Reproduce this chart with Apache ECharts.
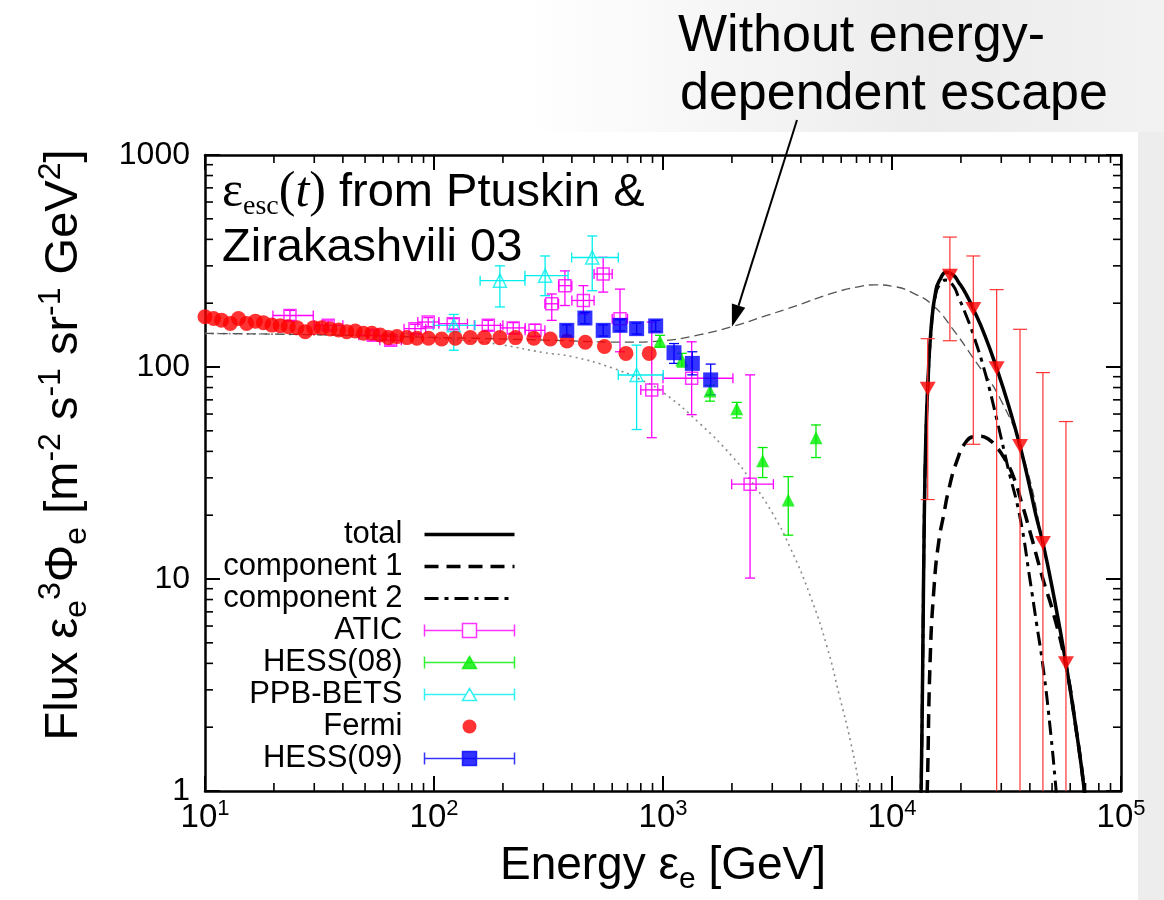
<!DOCTYPE html>
<html>
<head>
<meta charset="utf-8">
<script src="https://cdn.jsdelivr.net/npm/echarts@6.0.0/dist/echarts.min.js"></script>
<style>
html,body{margin:0;padding:0;background:#fff;overflow:hidden;}
#chart{width:1164px;height:900px;}
</style>
</head>
<body>
<div id="chart"></div>
<script>
// ---------------- data ----------------
const fermiE = [10.0,10.9,11.8,12.9,14.0,15.2,16.6,18.0,19.6,21.3,23.1,25.2,27.4,29.8,32.4,35.2,38.3,41.6,45.3,49.2,53.5,58.2,63.3,68.9,76.2,84.2,94.6,108,124,144,166,194,227,273,322,381,458,555,689,871];
const fermiF = [172.6,169.4,166.3,160.6,169.4,160.6,164.5,161.7,157.6,156.7,155.0,153.3,146.8,153.3,153.3,151.0,149.4,146.8,147.8,144.2,144.2,141.5,137.6,139.1,137.6,136.6,136.6,135.6,136.6,137.6,137.6,137.6,137.6,136.6,135.6,132.7,130.9,125.0,115.9,115.9];

const aticE   = [23.5,34.5,54.3,64.7,82.6,94.4,121.3,172.6,221.8,276,326.8,373,449,548,649,893,1334,2400];
const aticF   = [175,157.2,141.2,133.7,151.7,163,160.1,157.2,152.9,148.9,198.7,242,206,274.5,169,78,88.5,28.0];
const aticELo = [19.8,30,47,58,74,85,105,150,195,250,305,350,400,500,600,800,1000,1995];
const aticEHi = [29.7,40,62,72,92,105,140,200,250,305,350,400,500,600,700,1000,2020,3034];
const aticFLo = [166,150,134,127,144,155,151,149,144,139,166,195,178,225.6,118,46.4,59.6,10.1];
const aticFHi = [185,165,148,140,159,171,169,166,162,159,221,284,242,329,233,163,131.5,91.8];

const betsE   = [122,194,305.6,491,767];
const betsF   = [157.2,255.4,269.6,328.5,91.7];
const betsELo = [99.3,159,249.5,399,638];
const betsEHi = [151,249.5,385,638,1002];
const betsFLo = [120,192,217,229,50.7];
const betsFHi = [177,300,334,415,126.8];

const hess08E   = [970,1209,1603,2099,2724,3524,4656];
const hess08F   = [132.3,107.8,77,63.6,36.1,23.6,46.4];
const hess08FLo = [124,100,69,57.5,30.1,16.1,37.4];
const hess08FHi = [141,116,82,68.1,41.7,30.4,53.3];

const hess09E   = [380,456,548,649,767,929,1117,1343,1615];
const hess09F   = [148.9,170.2,148.9,157.2,151.7,156.2,116.8,104,86.9];
const hess09FLo = [140,160,140,148,143,147,104,91.8,73.9];
const hess09FHi = [158,181,158,167,161,166,129,118,103.2];

// unlabeled red downward triangles (0.5 = error bar runs off the bottom)
const simE   = [14320,17900,22650,28640,36230,45600,57500];
const simF   = [78.9,269.5,188,98.6,42.4,14.8,4.0];
const simFLo = [23.7,133,43.2,0.5,0.5,0.5,0.5];
const simFHi = [136,410,334,231.7,150.6,94.1,55.3];

// model curves
const totalE = [13250,13400,13620,13840,14080,14320,14800,15540,16300,17200,18500,19500,21000,22650,25500,28640,32000,36230,40000,42500,45600,50470,57500,63500,69180,71000];
const totalF = [0.6,1,4,20,50,80,150,230,262,280,272,252,222,188,140,98.6,68,42.4,27,20,14.8,8.7,4.0,2.0,1.0,0.7];
const comp1E = [14000,14250,14680,15280,16000,16880,17630,19190,21180,23000,24320,26500,28700,31000,33890,37000,40000,45600,50470,57500,63500,69180,71000];
const comp1F = [0.6,1.0,4.2,9.3,15,20.5,26,36,44.8,47,47.2,45.5,41.8,37,30.4,22.5,16.8,10,7.0,3.9,2.0,1.0,0.7];
const comp2E = [13250,13400,13620,13840,14080,14320,14800,15540,16300,17200,18500,19500,21000,22650,25500,28640,32000,36230,40000,42750,45600,48870,52100,53500];
const comp2F = [0.6,1,4,20,49,79,146,222,248,257,242,214,177,142,94,57,34,19.5,10,6.2,3.9,2.06,1.0,0.7];
const noEscE = [10,30,100,300,700,1000,1450,2000,2840,3840,5360,7000,8430,10140,12500,15130,18500,22650,29650,37420,45600,57500,69180,71000];
const noEscF = [144,142,138,134,131,133,142,155,175,195,221,238,244,240,222,195,150,110,71,38,14.8,4.0,1.0,0.7];
const bgE = [10,30,60,100,160,200,300,400,600,800,1000,1450,2000,2400,3000,3600,4400,5200,5900,6600,7250,7600];
const bgF = [144,142,140,137,131,127,117,112,99,87,76,54,38,29.5,20.5,14,8.3,4.8,2.8,1.7,1.0,0.7];

// axis ticks / labels
const xTickExponents = ['1','2','3','4','5'];
const yTickLabels = ['1','10','100','1000'];
const minorMult = [2,3,4,5,6,7,8,9];
const xDecades = [10,100,1000,10000];
const yDecades = [1,10,100];
const arrowTarget = [2000, 155];

// ---------------- chart ----------------
const FONT = "'Liberation Sans', Arial, Helvetica, sans-serif";
const SERIF = "'Liberation Serif', 'Times New Roman', serif";
const pairs = (E, F) => E.map((e, i) => [e, F[i]]);

function errSeries(name, E, F, ELo, EHi, FLo, FHi, color, lw, cap) {
  const data = E.map((e, i) => [e, F[i], ELo ? ELo[i] : 0, EHi ? EHi[i] : 0, FLo[i], FHi[i]]);
  return {
    type: 'custom', name: name, silent: true, z: 3, data: data,
    encode: { x: 0, y: 1 },
    renderItem: function (params, api) {
      const x = api.value(0), y = api.value(1);
      const xl = api.value(2), xh = api.value(3), yl = api.value(4), yh = api.value(5);
      const c = api.coord([x, y]);
      const yBottom = api.coord([10, 1])[1];
      const st = { stroke: color, lineWidth: lw, fill: null };
      const h = cap / 2;
      const ch = [];
      if (yl > 0 && yh > 0) {
        const pl = api.coord([x, yl]), ph = api.coord([x, yh]);
        const ylo = Math.min(pl[1], yBottom);
        ch.push({ type: 'line', shape: { x1: c[0], y1: ylo, x2: c[0], y2: ph[1] }, style: st });
        ch.push({ type: 'line', shape: { x1: c[0] - h, y1: ph[1], x2: c[0] + h, y2: ph[1] }, style: st });
        if (pl[1] <= yBottom) ch.push({ type: 'line', shape: { x1: c[0] - h, y1: pl[1], x2: c[0] + h, y2: pl[1] }, style: st });
      }
      if (xl > 0 && xh > 0) {
        const ql = api.coord([xl, y]), qh = api.coord([xh, y]);
        ch.push({ type: 'line', shape: { x1: ql[0], y1: c[1], x2: qh[0], y2: c[1] }, style: st });
        ch.push({ type: 'line', shape: { x1: ql[0], y1: c[1] - h, x2: ql[0], y2: c[1] + h }, style: st });
        ch.push({ type: 'line', shape: { x1: qh[0], y1: c[1] - h, x2: qh[0], y2: c[1] + h }, style: st });
      }
      return { type: 'group', children: ch };
    }
  };
}

const xMinor = []; xDecades.forEach(d => minorMult.forEach(m => xMinor.push([d * m, 1])));
const yMinor = []; yDecades.forEach(d => minorMult.forEach(m => yMinor.push([10, d * m])));
const tickStyle = { stroke: '#000', lineWidth: 1.6 };

const axisCommon = {
  type: 'log', logBase: 10,
  axisLine: { show: true, lineStyle: { color: '#000', width: 2.5 } },
  axisTick: { show: true, inside: true, length: 15, lineStyle: { color: '#000', width: 2 } },
  minorTick: { show: false }, splitLine: { show: false }, minorSplitLine: { show: false }
};

function lineSeries(name, E, F, color, width, type, z) {
  return {
    type: 'line', name: name, data: pairs(E, F), showSymbol: false, symbol: 'none',
    smooth: 0.5, silent: true, z: z || 2, clip: true,
    lineStyle: { color: color, width: width, type: type }, emphasis: { disabled: true }
  };
}
function scatterSeries(name, E, F, symbol, size, itemStyle, rotate) {
  return {
    type: 'scatter', name: name, data: pairs(E, F), symbol: symbol, symbolSize: size,
    symbolRotate: rotate || 0, itemStyle: itemStyle, silent: true, z: 4, emphasis: { disabled: true }
  };
}

const ICON_LINE   = 'path://M0,0L0,0M90,14L90,14M0,7L90,7';
const ICON_ATIC   = 'path://M0,7L38,7M52,7L90,7M0,1L0,13M90,1L90,13M38,0L52,0L52,14L38,14Z';
const ICON_HESS08 = 'path://M0,0L0,0M90,14L90,14M0,7L90,7M0,1L0,13M90,1L90,13M45,1L52,13L38,13Z';
const ICON_BETS   = 'path://M0,0L0,0M90,14L90,14M0,7L41.5,7M48.5,7L90,7M0,1L0,13M90,1L90,13M45,1L52,13L38,13Z';
const ICON_FERMI  = 'path://M0,0L0,0M90,14L90,14M52,7A7,7,0,1,1,38,7A7,7,0,1,1,52,7Z';
const ICON_HESS09 = 'path://M0,7L90,7M0,1L0,13M90,1L90,13M38,0L52,0L52,14L38,14Z';

const option = {
  animation: false,
  backgroundColor: '#fff',
  textStyle: { fontFamily: FONT },
  grid: { left: 205, right: 43, top: 155, bottom: 104, show: false },
  xAxis: [
    Object.assign({}, axisCommon, {
      min: 10, max: 100000, position: 'bottom',
      axisLabel: {
        show: true, margin: 7, showMinLabel: true, showMaxLabel: true,
        formatter: v => '{b|10}{s|' + xTickExponents[Math.round(Math.log10(v)) - 1] + '}',
        rich: {
          b: { fontSize: 33, fontFamily: FONT, color: '#000', lineHeight: 40 },
          s: { fontSize: 22, fontFamily: FONT, color: '#000', lineHeight: 22, verticalAlign: 'top' }
        }
      },
      name: '{t|Energy ε}{sb|e}{t| [GeV]}',
      nameLocation: 'middle', nameGap: 46,
      nameTextStyle: {
        rich: {
          t: { fontSize: 46, fontFamily: FONT, color: '#000', lineHeight: 58 },
          sb: { fontSize: 30, fontFamily: FONT, color: '#000', lineHeight: 30, verticalAlign: 'bottom' }
        }
      }
    }),
    Object.assign({}, axisCommon, { min: 10, max: 100000, position: 'top', axisLabel: { show: false } })
  ],
  yAxis: [
    Object.assign({}, axisCommon, {
      min: 1, max: 1000, position: 'left',
      axisLabel: {
        show: true, margin: 15, fontSize: 32, color: '#000', fontFamily: FONT,
        showMinLabel: true, showMaxLabel: true,
        formatter: v => yTickLabels[Math.round(Math.log10(v))]
      },
      name: '{t|Flux ε}{sb|e}{sp|3}{t|Φ}{sb|e}{t| [m}{sp|-2}{t| s}{sp|-1}{t| sr}{sp|-1}{t| GeV}{sp|2}{t|]}',
      nameLocation: 'middle', nameGap: 112, nameRotate: 90,
      nameTextStyle: {
        padding: [0, 0, 0, 56],
        rich: {
          t: { fontSize: 47, fontFamily: FONT, color: '#000', lineHeight: 58 },
          sb: { fontSize: 32, fontFamily: FONT, color: '#000', lineHeight: 32, verticalAlign: 'bottom' },
          sp: { fontSize: 32, fontFamily: FONT, color: '#000', lineHeight: 32, verticalAlign: 'top' }
        }
      }
    }),
    Object.assign({}, axisCommon, { min: 1, max: 1000, position: 'right', axisLabel: { show: false } })
  ],
  legend: {
    orient: 'vertical', right: 1164 - 517, top: 519, align: 'right',
    itemWidth: 90, itemHeight: 14, itemGap: 1, padding: 0, selectedMode: false,
    symbolKeepAspect: true,
    textStyle: { fontSize: 31, fontFamily: FONT, color: '#000', padding: [0, 17, 0, 0] },
    data: [
      { name: 'total', icon: ICON_LINE, itemStyle: { color: 'none', borderColor: '#000', borderWidth: 3.5, borderType: 'solid' } },
      { name: 'component 1', icon: ICON_LINE, itemStyle: { color: 'none', borderColor: '#000', borderWidth: 3.5, borderType: [14, 8] } },
      { name: 'component 2', icon: ICON_LINE, itemStyle: { color: 'none', borderColor: '#000', borderWidth: 3, borderType: [14, 6, 4, 6] } },
      { name: 'ATIC', icon: ICON_ATIC, itemStyle: { color: 'none', borderColor: '#ff00ff', borderWidth: 1.5, borderType: 'solid' } },
      { name: 'HESS(08)', icon: ICON_HESS08, itemStyle: { color: '#00ee00', borderColor: '#00ee00', borderWidth: 1.5, borderType: 'solid' } },
      { name: 'PPB-BETS', icon: ICON_BETS, itemStyle: { color: 'none', borderColor: '#00eeee', borderWidth: 1.5, borderType: 'solid' } },
      { name: 'Fermi', icon: ICON_FERMI, itemStyle: { color: '#ff0000', borderColor: '#ff0000', borderWidth: 0, borderType: 'solid' } },
      { name: 'HESS(09)', icon: ICON_HESS09, itemStyle: { color: '#0000ff', borderColor: '#0000ff', borderWidth: 1.5, borderType: 'solid' } }
    ]
  },
  series: [
    {
      type: 'custom', name: 'xminor', silent: true, z: 1, data: xMinor, encode: { x: 0, y: 1 },
      renderItem: (p, api) => {
        const v = api.value(0); const b = api.coord([v, 1]); const t = api.coord([v, 1000]);
        return { type: 'group', children: [
          { type: 'line', shape: { x1: b[0], y1: b[1], x2: b[0], y2: b[1] - 8 }, style: tickStyle },
          { type: 'line', shape: { x1: t[0], y1: t[1], x2: t[0], y2: t[1] + 8 }, style: tickStyle } ] };
      }
    },
    {
      type: 'custom', name: 'yminor', silent: true, z: 1, data: yMinor, encode: { x: 0, y: 1 },
      renderItem: (p, api) => {
        const v = api.value(1); const l = api.coord([10, v]); const r = api.coord([100000, v]);
        return { type: 'group', children: [
          { type: 'line', shape: { x1: l[0], y1: l[1], x2: l[0] + 8, y2: l[1] }, style: tickStyle },
          { type: 'line', shape: { x1: r[0], y1: r[1], x2: r[0] - 8, y2: r[1] }, style: tickStyle } ] };
      }
    },
    lineSeries('background', bgE, bgF, '#8a8a8a', 1.6, [2, 4]),
    lineSeries('without escape', noEscE, noEscF, '#555', 1.3, [9, 5]),
    lineSeries('component 1', comp1E, comp1F, '#000', 3.5, [14, 8]),
    lineSeries('component 2', comp2E, comp2F, '#000', 3, [14, 6, 4, 6]),
    lineSeries('total', totalE, totalF, '#000', 3.5, 'solid'),

    errSeries('ATIC err', aticE, aticF, aticELo, aticEHi, aticFLo, aticFHi, '#ff00ff', 1.3, 10),
    scatterSeries('ATIC', aticE, aticF, 'rect', 12, { color: 'rgba(0,0,0,0)', borderColor: '#ff00ff', borderWidth: 1.5 }),
    errSeries('HESS08 err', hess08E, hess08F, null, null, hess08FLo, hess08FHi, '#00ee00', 1.3, 10),
    scatterSeries('HESS(08)', hess08E, hess08F, 'triangle', 13, { color: '#00ee00' }),
    errSeries('BETS err', betsE, betsF, betsELo, betsEHi, betsFLo, betsFHi, '#00eeee', 1.3, 10),
    scatterSeries('PPB-BETS', betsE, betsF, 'triangle', 13, { color: 'rgba(0,0,0,0)', borderColor: '#00eeee', borderWidth: 1.5 }),
    scatterSeries('Fermi', fermiE, fermiF, 'circle', 15, { color: '#ff0000' }),
    errSeries('HESS09 err', hess09E, hess09F, null, null, hess09FLo, hess09FHi, '#0000ff', 1.3, 10),
    scatterSeries('HESS(09)', hess09E, hess09F, 'rect', 15, { color: '#0000ff' }),
    errSeries('sim err', simE, simF, null, null, simFLo, simFHi, '#ff3333', 1.2, 14),
    scatterSeries('simulated', simE, simF, 'triangle', [16, 14], { color: '#ff0000' }, 180)
  ]
};

const chart = echarts.init(document.getElementById('chart'), null, { renderer: 'canvas' });
chart.setOption(option);

// annotations
const tip = chart.convertToPixel({ xAxisIndex: 0, yAxisIndex: 0 }, arrowTarget);
const start = [797, 120];
const dx = tip[0] - start[0], dy = tip[1] - start[1];
const len = Math.sqrt(dx * dx + dy * dy);
const ux = dx / len, uy = dy / len;
const hl = 22, hw = 7;
const base = [tip[0] - ux * hl, tip[1] - uy * hl];
chart.setOption({
  graphic: [
    { id: 'bgTop', type: 'rect', z: -10, silent: true, shape: { x: 0, y: 0, width: 1164, height: 132 },
      style: { fill: new echarts.graphic.LinearGradient(0, 0, 1, 0, [
        { offset: 0, color: '#ffffff' }, { offset: 0.45, color: '#ffffff' },
        { offset: 0.8, color: '#ececec' }, { offset: 1, color: '#f2f2f2' }]) } },
    { id: 'bgRight', type: 'rect', z: -10, silent: true, shape: { x: 1138, y: 132, width: 26, height: 768 }, style: { fill: '#ededed' } },
    { id: 'ann1', type: 'text', x: 678, y: 37, silent: true,
      style: { text: 'Without energy-', fontSize: 52, fontFamily: FONT, fill: '#000', align: 'left', verticalAlign: 'middle' } },
    { id: 'ann2', type: 'text', x: 680, y: 95, silent: true,
      style: { text: 'dependent escape', fontSize: 52, fontFamily: FONT, fill: '#000', align: 'left', verticalAlign: 'middle' } },
    { id: 'arrowLine', type: 'line', silent: true, z: 10,
      shape: { x1: start[0], y1: start[1], x2: base[0], y2: base[1] }, style: { stroke: '#000', lineWidth: 2 } },
    { id: 'arrowHead', type: 'polygon', silent: true, z: 10,
      shape: { points: [tip, [base[0] - uy * hw, base[1] + ux * hw], [base[0] + uy * hw, base[1] - ux * hw]] },
      style: { fill: '#000' } },
    { id: 'inner1', type: 'text', x: 222, y: 193, silent: true, z: 10,
      style: {
        text: '{e|ε}{sb|esc}{p|(}{i|t}{p|)}{t| from Ptuskin &}',
        align: 'left', verticalAlign: 'middle',
        rich: {
          e: { fontSize: 50, fontFamily: SERIF, fill: '#000', lineHeight: 56 },
          sb: { fontSize: 28, fontFamily: SERIF, fill: '#000', lineHeight: 24, verticalAlign: 'bottom' },
          p: { fontSize: 50, fontFamily: SERIF, fill: '#000', lineHeight: 56 },
          i: { fontSize: 50, fontFamily: SERIF, fontStyle: 'italic', fill: '#000', lineHeight: 56 },
          t: { fontSize: 47, fontFamily: FONT, fill: '#000', lineHeight: 56 }
        }
      } },
    { id: 'inner2', type: 'text', x: 222, y: 248, silent: true, z: 10,
      style: { text: 'Zirakashvili 03', fontSize: 47, fontFamily: FONT, fill: '#000', align: 'left', verticalAlign: 'middle' } }
  ]
});
</script>
</body>
</html>
